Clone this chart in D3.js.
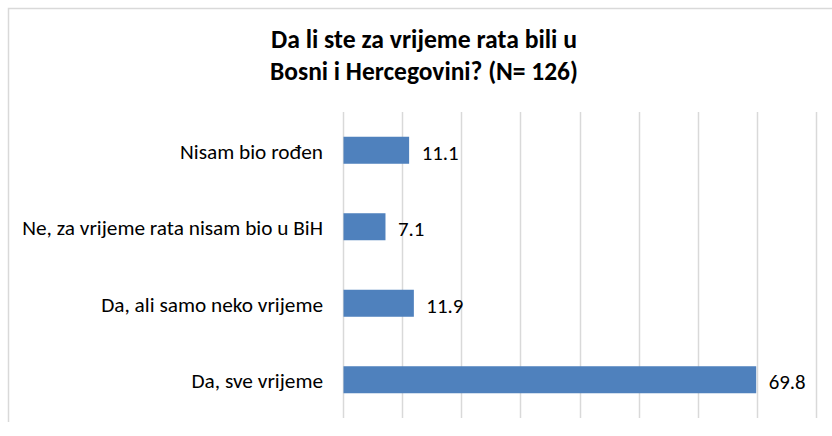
<!DOCTYPE html>
<html>
<head>
<meta charset="utf-8">
<script src="https://cdn.jsdelivr.net/npm/d3@7"></script>
<style>
  html, body { margin: 0; padding: 0; background: #fff; }
  svg { display: block; }
  text { font-family: Carlito, Lato, "Open Sans", sans-serif; fill: #000; }
</style>
</head>
<body>
<div id="chart"></div>
<script>
/* Da li ste za vrijeme rata bili u BiH, horizontal bar chart (percentages) */

// ---- data ----
const titleLines = ["Da li ste za vrijeme rata bili u", "Bosni i Hercegovini? (N= 126)"];
const categories = ["Nisam bio rođen", "Ne, za vrijeme rata nisam bio u BiH", "Da, ali samo neko vrijeme", "Da, sve vrijeme"];
const values = [11.1, 7.1, 11.9, 69.8];
const xTicks = [0, 10, 20, 30, 40, 50, 60, 70, 80];

const W = 832, H = 436;
const plot = { left: 343, right: 816, top: 112, bottom: 418 };

const svg = d3.select("#chart").append("svg").attr("width", W).attr("height", H);

// chart area border (cut off on the right and bottom in the original)
svg.append("path")
  .attr("d", `M8.5,422 L8.5,8.5 L${W},8.5`)
  .attr("fill", "none").attr("stroke", "#d9d9d9").attr("stroke-width", 1.5);

// fit a text element to a target width by adjusting its font size
function fitWidth(sel, target) {
  const n = sel.node(), fs = parseFloat(sel.attr("font-size"));
  const w = n.getComputedTextLength();
  if (w > 0) sel.attr("font-size", (fs * target / w).toFixed(2));
}

// ---- title ----
const tY = [48, 80];
titleLines.forEach((t, i) => {
  const el = svg.append("text").attr("x", 424).attr("y", tY[i])
    .attr("text-anchor", "middle").attr("font-size", 22).attr("font-weight", 700).text(t);
  fitWidth(el, i === 0 ? 306 : 308);
});

// ---- scales ----
const x = d3.scaleLinear().domain([0, 80]).range([plot.left, plot.right]);
const y = d3.scaleBand().domain(categories).range([plot.top, plot.bottom])
  .paddingInner(0.647).paddingOuter(0.3235);

// gridlines (incl. the axis line at 0)
svg.append("g").selectAll("line").data(xTicks).join("line")
  .attr("x1", (d) => Math.round(x(d)) + 0.5).attr("x2", (d) => Math.round(x(d)) + 0.5)
  .attr("y1", plot.top).attr("y2", plot.bottom)
  .attr("stroke", "#d9d9d9").attr("stroke-width", 1.5);

// bars
svg.append("g").selectAll("rect").data(values).join("rect")
  .attr("x", x(0) + 0.5)
  .attr("y", (d, i) => y(categories[i]))
  .attr("width", (d) => x(d) - x(0))
  .attr("height", y.bandwidth())
  .attr("fill", "#4f81bd");

// value labels, "69.8" is about 37px wide in the original
const vals = svg.append("g").selectAll("text").data(values).join("text")
  .attr("x", (d) => x(d) + 13)
  .attr("y", (d, i) => y(categories[i]) + y.bandwidth() / 2 + 9.5)
  .attr("font-size", 20)
  .text((d) => d.toFixed(1));
const big = vals.filter((d, i) => i === 3);
fitWidth(big, 37);
vals.attr("font-size", big.attr("font-size"));

// category labels, size fitted from the longest one
const catG = svg.append("g");
const cats = catG.selectAll("text").data(categories).join("text")
  .attr("x", 323)
  .attr("y", (d) => y(d) + y.bandwidth() / 2 + 8.5)
  .attr("text-anchor", "end").attr("font-size", 19)
  .text((d) => d);
const longest = cats.filter((d, i) => i === 1);
fitWidth(longest, 301);
cats.attr("font-size", longest.attr("font-size"));
</script>
</body>
</html>
